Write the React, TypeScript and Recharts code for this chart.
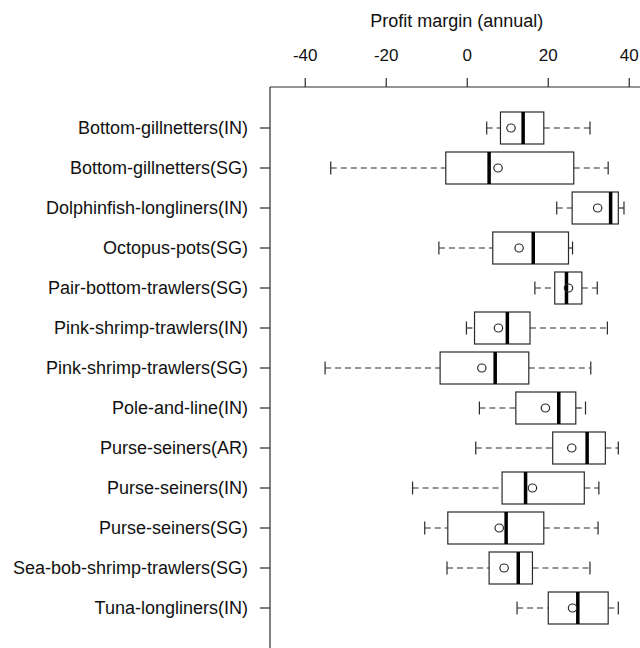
import { ComposedChart, Bar, XAxis, YAxis } from 'recharts'

const categories = [
  'Bottom-gillnetters(IN)',
  'Bottom-gillnetters(SG)',
  'Dolphinfish-longliners(IN)',
  'Octopus-pots(SG)',
  'Pair-bottom-trawlers(SG)',
  'Pink-shrimp-trawlers(IN)',
  'Pink-shrimp-trawlers(SG)',
  'Pole-and-line(IN)',
  'Purse-seiners(AR)',
  'Purse-seiners(IN)',
  'Purse-seiners(SG)',
  'Sea-bob-shrimp-trawlers(SG)',
  'Tuna-longliners(IN)',
]
const whiskerLow = [4.8, -33.7, 22.1, -7.0, 16.7, -0.2, -35.1, 3.0, 2.1, -13.5, -10.5, -5.0, 12.3]
const q1 = [8.2, -5.3, 25.9, 6.3, 21.6, 1.8, -6.7, 12.0, 21.1, 8.6, -4.8, 5.4, 20.0]
const median = [13.8, 5.4, 35.4, 16.3, 24.5, 9.9, 6.9, 22.6, 29.6, 14.4, 9.6, 12.6, 27.3]
const q3 = [18.9, 26.3, 37.3, 25.0, 28.3, 15.5, 15.2, 26.8, 34.1, 28.9, 18.9, 16.1, 34.8]
const whiskerHigh = [30.3, 34.8, 38.7, 26.0, 32.1, 34.6, 30.5, 29.2, 37.3, 32.5, 32.3, 30.3, 37.3]
const mean = [10.8, 7.6, 32.2, 12.8, 25.0, 7.7, 3.6, 19.3, 25.8, 16.1, 7.9, 9.1, 26.0]
const xTicks = [-40, -20, 0, 20, 40]

const data = categories.map((name, i) => ({
  name,
  lo: whiskerLow[i],
  q1: q1[i],
  med: median[i],
  q3: q3[i],
  hi: whiskerHigh[i],
  mean: mean[i],
}))

const FONT = '"Liberation Sans", Arial, sans-serif'
const INK = '#2a2a2a'

// bar spans lo..hi, so map the other stats linearly inside it
function BoxShape(props: any) {
  const { x, y, width, height, payload } = props
  const { lo, q1, med, q3, hi, mean } = payload
  const px = (v: number) => x + ((v - lo) / (hi - lo)) * width
  const cy = y + height / 2
  const cap = 6.5
  return (
    <g>
      <line x1={px(lo)} x2={px(q1)} y1={cy} y2={cy} stroke={INK} strokeWidth={1.2} strokeDasharray="6 4" />
      <line x1={px(q3)} x2={px(hi)} y1={cy} y2={cy} stroke={INK} strokeWidth={1.2} strokeDasharray="6 4" />
      <line x1={px(lo)} x2={px(lo)} y1={cy - cap} y2={cy + cap} stroke={INK} strokeWidth={1.2} />
      <line x1={px(hi)} x2={px(hi)} y1={cy - cap} y2={cy + cap} stroke={INK} strokeWidth={1.2} />
      <rect x={px(q1)} y={y} width={px(q3) - px(q1)} height={height} fill="#fff" stroke={INK} strokeWidth={1.2} />
      <line x1={px(med)} x2={px(med)} y1={y} y2={y + height} stroke="#000" strokeWidth={3.5} />
      <ellipse cx={px(mean)} cy={cy} rx={4.2} ry={4} fill="none" stroke={INK} strokeWidth={1.2} />
    </g>
  )
}

export default function App() {
  return (
    <div style={{ position: 'absolute', left: 0, top: 0, width: 640, height: 648, overflow: 'hidden', background: '#fff' }}>
      <ComposedChart
        width={660}
        height={680}
        data={data}
        layout="vertical"
        margin={{ top: 47, right: 10.5, bottom: 31, left: 0 }}
        style={{ fontFamily: FONT }}
      >
        <XAxis
          type="number"
          orientation="top"
          domain={[-48.7, 45]}
          allowDataOverflow
          ticks={xTicks}
          height={40}
          tickSize={9}
          tickMargin={17}
          tick={{ fontSize: 17, fill: '#111' }}
          axisLine={{ stroke: INK, strokeWidth: 1.2 }}
          tickLine={{ stroke: INK, strokeWidth: 1.2 }}
          label={{ value: 'Profit margin (annual)', position: 'top', offset: 20, dx: -3, fontSize: 18, fill: '#111' }}
        />
        <YAxis
          type="category"
          dataKey="name"
          width={270}
          padding={{ top: 21, bottom: 21 }}
          tickSize={10}
          tickMargin={12}
          interval={0}
          tick={{ fontSize: 18, fill: '#111' }}
          axisLine={{ stroke: INK, strokeWidth: 1.2 }}
          tickLine={{ stroke: INK, strokeWidth: 1.2 }}
        />
        <Bar
          dataKey={(d: any) => [d.lo, d.hi]}
          barSize={32}
          shape={BoxShape}
          isAnimationActive={false}
        />
      </ComposedChart>
    </div>
  )
}
